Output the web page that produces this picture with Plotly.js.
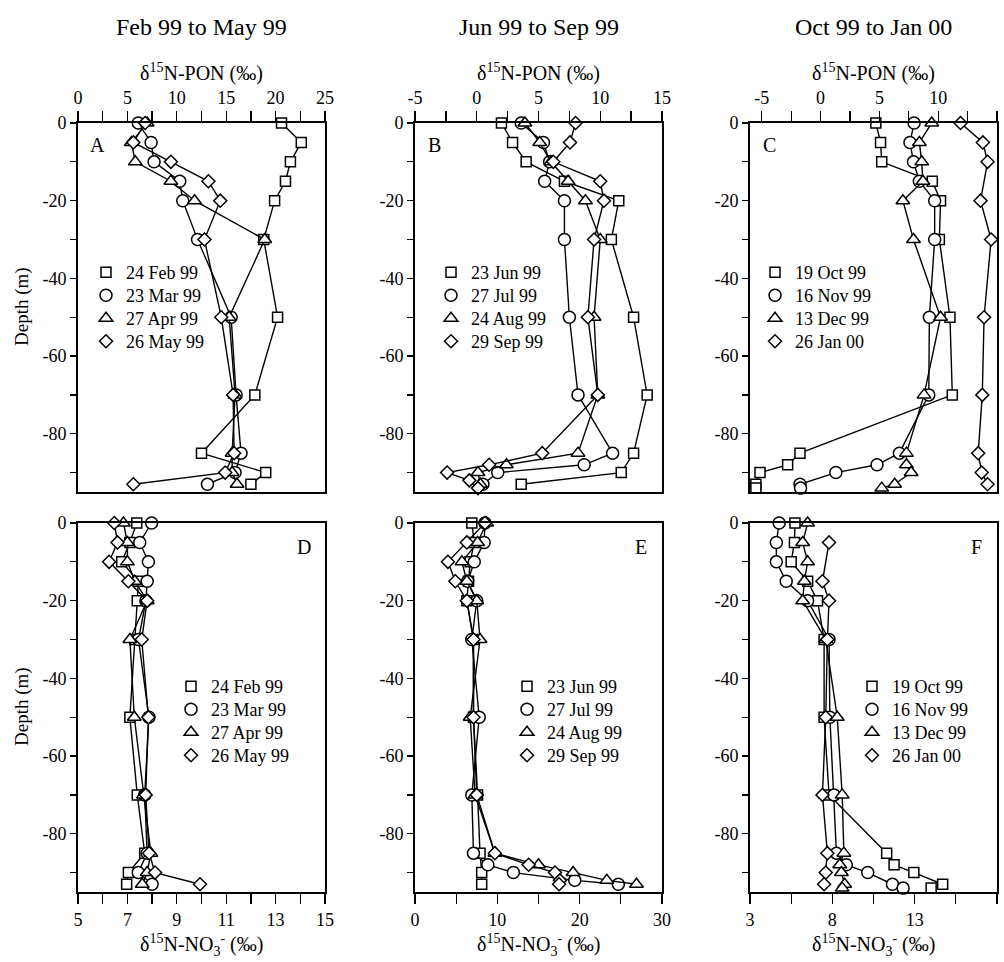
<!DOCTYPE html>
<html>
<head>
<meta charset="utf-8">
<script src="https://cdn.plot.ly/plotly-3.0.1.min.js"></script>
<style>html,body{margin:0;padding:0;background:#fff;}#chart{width:1004px;height:962px;}</style>
</head>
<body>
<div id="chart"></div>
<script>
// ---------- Data (depth in m, delta values in permil) ----------
// Panel A : d15N-PON, Feb-May 99
const depthA = [0,-5,-10,-15,-20,-30,-50,-70,-85,-90,-93];
const feb99_pon = [20.6,22.6,21.5,21.0,19.9,18.8,20.2,17.9,12.5,19.0,17.5];
const mar99_pon = [6.1,7.4,7.7,10.3,10.6,12.1,15.5,16.0,16.5,15.9,13.1];
const apr99_pon = [7.0,5.4,5.8,9.4,11.8,18.9,15.3,15.9,15.6,15.6,16.1];
const may99_pon = [6.8,5.6,9.4,13.2,14.4,12.8,14.5,15.7,15.8,14.9,5.6];

// Panel B : d15N-PON, Jun-Sep 99
const depthB_jun = [0,-5,-10,-15,-20,-30,-50,-70,-85,-90,-93];
const jun99_pon = [2.0,2.9,4.0,7.1,11.5,10.9,12.7,13.8,12.7,11.7,3.6];
const depthB_jul = [0,-5,-10,-15,-20,-30,-50,-70,-85,-88,-90,-93];
const jul99_pon = [3.6,5.4,5.9,5.5,7.1,7.1,7.5,8.2,11.0,8.7,1.7,0.5];
const depthB_aug = [0,-5,-10,-15,-20,-30,-50,-70,-85,-88,-90,-93];
const aug99_pon = [3.9,5.1,6.0,7.4,8.8,10.0,9.5,9.8,8.2,2.4,0.1,0.3];
const depthB_sep = [0,-5,-10,-15,-20,-30,-50,-70,-85,-88,-90,-92,-94];
const sep99_pon = [8.0,7.55,6.2,10.0,10.3,9.5,9.0,9.8,5.3,1.0,-2.4,-0.6,0.1];

// Panel C : d15N-PON, Oct 99 - Jan 00
const depthC = [0,-5,-10,-15,-20,-30,-50,-70,-85,-88,-90,-93,-94];
const oct99_pon = [4.7,5.1,5.2,9.5,10.2,10.1,11.0,11.2,-1.75,-2.8,-5.15,-5.5,-5.5];
const nov99_pon = [7.95,7.6,7.9,8.4,9.7,9.7,9.25,9.2,6.7,4.8,1.3,-1.75,-1.7];
const dec99_pon = [9.45,8.4,8.6,8.7,7.0,7.9,10.2,8.8,7.3,7.3,7.7,6.3,5.2];
const depthC_jan = [0,-5,-10,-20,-30,-50,-70,-85,-90,-93];
const jan00_pon = [11.9,13.8,14.2,13.6,14.5,13.9,13.75,13.4,13.7,14.2];

// Panel D : d15N-NO3, Feb-May 99
const depthD = [0,-5,-10,-15,-20,-30,-50,-70,-85,-90,-93];
const feb99_no3 = [7.38,7.1,6.77,7.44,7.4,7.3,7.1,7.4,7.7,7.04,6.97];
const mar99_no3 = [7.98,7.5,7.85,7.8,7.75,7.45,7.87,7.7,7.8,7.44,8.0];
const apr99_no3 = [6.84,7.0,7.0,7.3,7.8,7.1,7.28,7.65,7.95,7.8,7.6];
const may99_no3 = [6.47,6.6,6.26,7.04,7.8,7.58,7.85,7.74,7.88,8.12,9.94];

// Panel E : d15N-NO3, Jun-Sep 99
const depthE_jun = [0,-5,-10,-15,-20,-30,-50,-70,-85,-90,-93];
const jun99_no3 = [6.9,7.2,6.7,6.5,6.3,7.1,7.1,7.6,7.9,8.1,8.1];
const depthE = [0,-5,-10,-15,-20,-30,-50,-70,-85,-88,-90,-92,-93];
const jul99_no3 = [8.5,8.4,7.2,6.4,7.5,6.9,7.8,6.9,7.1,8.85,11.95,19.4,24.7];
const aug99_no3 = [8.7,7.6,5.7,6.3,7.5,7.9,6.7,7.3,9.7,15.0,19.2,23.3,26.9];
const sep99_no3 = [8.5,6.3,4.0,4.9,6.3,7.1,7.1,7.5,9.7,13.8,17.0,17.6,17.5];

// Panel F : d15N-NO3, Oct 99 - Jan 00
const depthF_oct = [0,-5,-10,-15,-20,-30,-50,-70,-85,-88,-90,-93,-94];
const oct99_no3 = [5.73,5.7,5.5,6.5,7.1,7.5,7.5,7.8,11.3,11.75,12.95,14.7,14.0];
const depthF = [0,-5,-10,-15,-20,-30,-50,-70,-85,-88,-90,-93,-94];
const nov99_no3 = [4.77,4.6,4.6,5.2,6.5,7.8,7.85,8.1,8.25,8.85,10.15,11.65,12.3];
const dec99_no3 = [6.5,6.2,6.5,6.3,6.2,7.6,8.3,8.6,8.7,8.45,8.55,8.75,8.6];
const depthF_jan = [-5,-15,-20,-30,-50,-70,-85,-90,-93];
const jan00_no3 = [7.8,7.4,7.8,7.7,7.6,7.4,7.7,7.6,7.5];

// Labels and ticks
const columnTitles = ['Feb 99 to May 99','Jun 99 to Sep 99','Oct 99 to Jan 00'];
const panelLetters = ['A','B','C','D','E','F'];
const datesCol1 = ['24 Feb 99','23 Mar 99','27 Apr 99','26 May 99'];
const datesCol2 = ['23 Jun 99','27 Jul 99','24 Aug 99','29 Sep 99'];
const datesCol3 = ['19 Oct 99','16 Nov 99','13 Dec 99','26 Jan 00'];
const depthTickVals = [0,-20,-40,-60,-80];
const depthTickText = ['0','-20','-40','-60','-80'];
const depthMinorVals = [-10,-30,-50,-70,-90];

// ---------- Helpers ----------
const W = 1004, H = 962;
const FONT = 'Liberation Serif, Times New Roman, serif';
const symbols = ['square','circle','triangle-up','diamond'];
const sizes = [10, 12, 12, 10];

function px(v){ return v / W; }
function py(v){ return 1 - v / H; }

const traces = [];
function addSeries(xs, ys, k, ax){
  traces.push({
    type:'scatter', mode:'lines+markers', x:xs, y:ys,
    xaxis:'x'+ax, yaxis:'y'+ax, showlegend:false, cliponaxis:false,
    line:{color:'black', width:1.4},
    marker:{symbol:symbols[k], size:sizes[k], color:'white', line:{color:'black', width:1.5}},
    hoverinfo:'x+y'
  });
}

// A
addSeries(feb99_pon, depthA, 0, '');
addSeries(mar99_pon, depthA, 1, '');
addSeries(apr99_pon, depthA, 2, '');
addSeries(may99_pon, depthA, 3, '');
// B
addSeries(jun99_pon, depthB_jun, 0, '2');
addSeries(jul99_pon, depthB_jul, 1, '2');
addSeries(aug99_pon, depthB_aug, 2, '2');
addSeries(sep99_pon, depthB_sep, 3, '2');
// C
addSeries(oct99_pon, depthC, 0, '3');
addSeries(nov99_pon, depthC, 1, '3');
addSeries(dec99_pon, depthC, 2, '3');
addSeries(jan00_pon, depthC_jan, 3, '3');
// D
addSeries(feb99_no3, depthD, 0, '4');
addSeries(mar99_no3, depthD, 1, '4');
addSeries(apr99_no3, depthD, 2, '4');
addSeries(may99_no3, depthD, 3, '4');
// E
addSeries(jun99_no3, depthE_jun, 0, '5');
addSeries(jul99_no3, depthE, 1, '5');
addSeries(aug99_no3, depthE, 2, '5');
addSeries(sep99_no3, depthE, 3, '5');
// F
addSeries(oct99_no3, depthF_oct, 0, '6');
addSeries(nov99_no3, depthF, 1, '6');
addSeries(dec99_no3, depthF, 2, '6');
addSeries(jan00_no3, depthF_jan, 3, '6');

// ---------- Layout ----------
const colPx = [[78,325],[415,662],[750,997]];
const rowPx = [[123,492],[523,892]];

function xTicks(hi, step, start){
  const major=[], minor=[];
  let i=0;
  for(let v=start; v<=hi+1e-9; v+=step, i++){
    const val = +v.toFixed(4);
    if(i % 2 === 0) major.push(val); else minor.push(val);
  }
  return {major, text:major.map(v=>String(v)), minor};
}
const xSpecs = [
  {range:[0,25], t:xTicks(25,2.5,0)},
  {range:[-5,15], t:xTicks(15,2.5,-5)},
  {range:[-6,15], t:xTicks(15,2.5,-5)},
  {range:[5,15], t:xTicks(15,1,5)},
  {range:[0,30], t:xTicks(30,5,0)},
  {range:[3,18], t:xTicks(18,2.5,3)}
];

const layout = {
  width:W, height:H, margin:{l:0,r:0,t:0,b:0},
  paper_bgcolor:'white', plot_bgcolor:'white',
  font:{family:FONT, color:'black', size:18},
  annotations:[], shapes:[]
};

const legMarkerX = [108,453,777,193,529,874];
const legRowsTop = [271,294,317,340];
const legRowsBot = [685,708,731,754];
const legNames = [datesCol1,datesCol2,datesCol3,datesCol1,datesCol2,datesCol3];

let legCount = 0;
for(let p=0;p<6;p++){
  const r = p<3 ? 0 : 1, c = p%3;
  const id = p===0 ? '' : String(p+1);
  const xs = xSpecs[p];
  layout['xaxis'+id] = {
    domain:[px(colPx[c][0]), px(colPx[c][1])],
    anchor:'y'+id, side: r===0 ? 'top' : 'bottom',
    range:xs.range, tickmode:'array', tickvals:xs.t.major, ticktext:xs.t.text,
    ticks:'outside', ticklen:10, tickwidth:1.3, tickcolor:'black',
    minor:{tickmode:'array', tickvals:xs.t.minor, ticks:'outside', ticklen:10, tickwidth:1.3, tickcolor:'black', showgrid:false},
    showline:true, linewidth:2, linecolor:'black', mirror:true,
    showgrid:false, zeroline:false, fixedrange:true,
    tickfont:{family:FONT, size:18, color:'black'}
  };
  layout['yaxis'+id] = {
    domain:[py(rowPx[r][1]), py(rowPx[r][0])],
    anchor:'x'+id, range:[-95,0],
    tickmode:'array', tickvals:depthTickVals, ticktext:depthTickText,
    ticks:'outside', ticklen:6, tickwidth:1.3, tickcolor:'black',
    minor:{tickmode:'array', tickvals:depthMinorVals, ticks:'outside', ticklen:6, tickwidth:1.3, tickcolor:'black', showgrid:false},
    showline:true, linewidth:2, linecolor:'black', mirror:true,
    showgrid:false, zeroline:false, fixedrange:true,
    tickfont:{family:FONT, size:18, color:'black'}
  };
  const rows = r===0 ? legRowsTop : legRowsBot;
  legNames[p].forEach((n,k)=>{
    legCount++;
    const key = legCount===1 ? 'legend' : 'legend'+legCount;
    traces.push({
      type:'scatter', mode:'markers', x:[null], y:[null], name:n,
      xaxis:'x'+id, yaxis:'y'+id, legend:key, showlegend:true,
      marker:{symbol:symbols[k], size:sizes[k], color:'white', line:{color:'black', width:1.5}}
    });
    layout[key] = {
      x:px(legMarkerX[p]-22), y:py(rows[k]-17), xanchor:'left', yanchor:'top',
      bgcolor:'rgba(0,0,0,0)', borderwidth:0,
      font:{family:FONT, size:18, color:'black'}, itemclick:false, itemdoubleclick:false
    };
  });
  const letterPos = r===0 ? [colPx[c][0]+19, 145] : [colPx[c][1]-21, 547];
  layout.annotations.push({
    text:panelLetters[p], xref:'paper', yref:'paper',
    x:px(letterPos[0]), y:py(letterPos[1]), xanchor:'center', yanchor:'middle',
    showarrow:false, font:{family:FONT, size:20, color:'black'}
  });
}

for(let c=0;c<3;c++){
  const cx = (colPx[c][0]+colPx[c][1])/2;
  layout.annotations.push({
    text:columnTitles[c], xref:'paper', yref:'paper', x:px(cx), y:py(27),
    xanchor:'center', yanchor:'middle', showarrow:false,
    font:{family:FONT, size:24, color:'black'}
  });
  layout.annotations.push({
    text:'δ<sup>15</sup>N-PON (‰)', xref:'paper', yref:'paper', x:px(cx), y:py(73),
    xanchor:'center', yanchor:'middle', showarrow:false,
    font:{family:FONT, size:20, color:'black'}
  });
  layout.annotations.push({
    text:'δ<sup>15</sup>N-NO<sub>3</sub><sup>-</sup> (‰)', xref:'paper', yref:'paper', x:px(cx), y:py(945),
    xanchor:'center', yanchor:'middle', showarrow:false,
    font:{family:FONT, size:20, color:'black'}
  });
}
[307, 707].forEach(yc=>{
  layout.annotations.push({
    text:'Depth (m)', xref:'paper', yref:'paper', x:px(22), y:py(yc),
    xanchor:'center', yanchor:'middle', textangle:-90, showarrow:false,
    font:{family:FONT, size:19, color:'black'}
  });
});

Plotly.newPlot('chart', traces, layout, {staticPlot:true, displayModeBar:false});
</script>
</body>
</html>
